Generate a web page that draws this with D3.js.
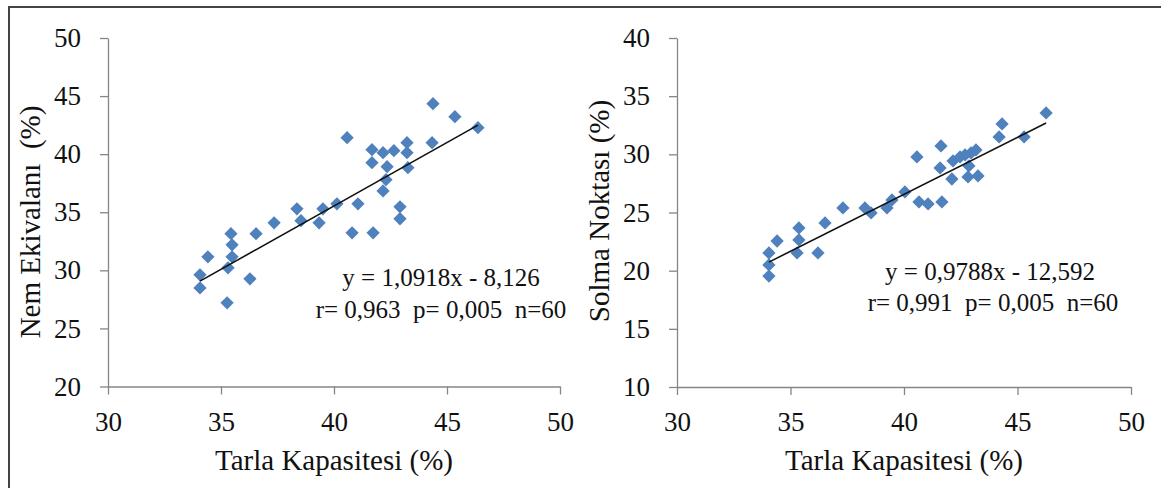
<html>
<head>
<meta charset="utf-8">
<script src="https://d3js.org/d3.v7.min.js"></script>
<style>
body { margin:0; background:white; }
text { font-family:"Liberation Serif", "Times New Roman", serif; fill:#111; }
.tick text { font-family:"Liberation Serif", "Times New Roman", serif !important; font-size:27px !important; }
</style>
</head>
<body>
<script>
//DATA - left chart (Tarla Kapasitesi vs Nem Ekivalanı)
var leftX = [34.07,34.07,34.42,35.44,35.49,35.49,35.31,35.27,36.28,36.55,37.35,38.36,38.54,39.34,39.51,40.13,40.58,40.80,
             41.06,41.68,41.68,41.73,42.17,42.35,42.30,42.17,42.65,42.92,42.92,43.23,43.23,43.27,44.34,44.38,45.35,46.37];
var leftY = [29.61,28.49,31.16,33.15,32.20,31.16,30.22,27.20,29.27,33.15,34.09,35.30,34.27,34.09,35.30,35.73,41.42,33.23,
             35.73,40.39,39.27,33.23,40.13,38.92,37.80,36.84,40.30,35.47,34.44,40.99,40.13,38.84,40.99,44.35,43.23,42.28];

//DATA - right chart (Tarla Kapasitesi vs Solma Noktası)
var rightX = [34.05,34.05,34.05,34.41,35.29,35.37,35.37,36.21,36.52,37.31,38.28,38.55,39.25,39.47,40.04,40.57,40.66,
              41.06,41.63,41.67,41.59,42.11,42.16,42.47,42.69,42.82,42.86,42.95,43.17,43.26,44.19,44.32,45.29,46.26];
var rightY = [21.52,20.49,19.54,22.55,21.52,22.64,23.67,21.52,24.10,25.39,25.39,24.96,25.39,26.08,26.77,29.78,25.91,
              25.74,30.72,25.91,28.83,27.88,29.43,29.78,29.95,28.06,29.00,30.12,30.38,28.14,31.50,32.61,31.50,33.56];

//TICKS AND LABELS
var xTicks = [30,35,40,45,50];
var leftYTicks = [20,25,30,35,40,45,50];
var rightYTicks = [10,15,20,25,30,35,40];
var xTitle = "Tarla Kapasitesi (%)";
var leftTitle = "Nem Ekivalanı  (%)";
var rightTitle = "Solma Noktası (%)";
//regression (slope, intercept) and text
var leftFit = [1.0918, -8.126];
var rightFit = [0.9788, -12.592];
var leftEq = ["y = 1,0918x - 8,126", "r= 0,963  p= 0,005  n=60"];
var rightEq = ["y = 0,9788x - 12,592", "r= 0,991  p= 0,005  n=60"];

var svg = d3.select("body")
   .append("svg")
   .attr("width", 1161)
   .attr("height", 488);

//OUTER FRAME (top + left edges only are visible)
svg.append("path")
   .attr("d", "M9,488 V7 H1161")
   .attr("fill", "none")
   .attr("stroke", "#444")
   .attr("stroke-width", 2);

var diamond = d3.symbol().type(d3.symbolSquare).size(88);

function drawChart(xs, ys, xDom, yDom, xRange, yRange, yTicks, fit, eq, eqPos, yTitle, yTitlePos) {
	var x = d3.scaleLinear().domain(xDom).range(xRange);
	var y = d3.scaleLinear().domain(yDom).range(yRange);
	var g = svg.append("g");

	//axes
	var xAxis = d3.axisBottom(x).tickValues(xTicks).tickSize(8).tickSizeOuter(0).tickPadding(17);
	var yAxis = d3.axisLeft(y).tickValues(yTicks).tickSize(8).tickSizeOuter(0).tickPadding(19);

	var gx = g.append("g").attr("transform", "translate(0," + yRange[0] + ")").call(xAxis);
	var gy = g.append("g").attr("transform", "translate(" + xRange[0] + ",0)").call(yAxis);

	[gx, gy].forEach(function(a) {
		a.attr("font-family", "Liberation Serif").attr("font-size", 27);
		a.select(".domain").attr("stroke", "#868686").attr("stroke-width", 1.3);
		a.selectAll(".tick line").attr("stroke", "#868686").attr("stroke-width", 1.3);
		a.selectAll(".tick text").attr("fill", "#111");
	});

	//points
	var pts = xs.map(function(v, i) { return {x:v, y:ys[i]}; });
	g.selectAll("path.pt").data(pts).enter().append("path")
		.attr("class", "pt")
		.attr("d", diamond)
		.attr("fill", "#4F81BD")
		.attr("transform", function(d) { return "translate(" + x(d.x) + "," + y(d.y) + ") rotate(45)"; });

	//trend line
	var x0 = d3.min(xs), x1 = d3.max(xs);
	g.append("line")
		.attr("x1", x(x0)).attr("y1", y(fit[0]*x0 + fit[1]))
		.attr("x2", x(x1)).attr("y2", y(fit[0]*x1 + fit[1]))
		.attr("stroke", "#111")
		.attr("stroke-width", 1.6);

	//equation text
	g.selectAll("text.eq").data(eq).enter().append("text")
		.attr("class", "eq")
		.attr("x", function(d, i) { return eqPos[i][0]; })
		.attr("y", function(d, i) { return eqPos[i][1]; })
		.attr("text-anchor", "middle")
		.style("white-space", "pre")
		.style("font-size", "25px")
		.text(function(d) { return d; });

	//axis titles
	g.append("text")
		.attr("x", (xRange[0] + xRange[1]) / 2)
		.attr("y", 470)
		.attr("text-anchor", "middle")
		.style("font-size", "29px")
		.text(xTitle);

	g.append("text")
		.attr("transform", "translate(" + yTitlePos[0] + "," + yTitlePos[1] + ") rotate(-90)")
		.attr("text-anchor", "middle")
		.style("white-space", "pre")
		.style("font-size", "29px")
		.text(yTitle);
}

drawChart(leftX, leftY, [30,50], [20,50], [108,560], [386.5,38], leftYTicks, leftFit, leftEq,
	[[441,286],[441,318]], leftTitle, [40,222]);
drawChart(rightX, rightY, [30,50], [10,40], [677,1131], [387,38], rightYTicks, rightFit, rightEq,
	[[990,280],[993,311]], rightTitle, [609,211]);

</script>
</body>
</html>
